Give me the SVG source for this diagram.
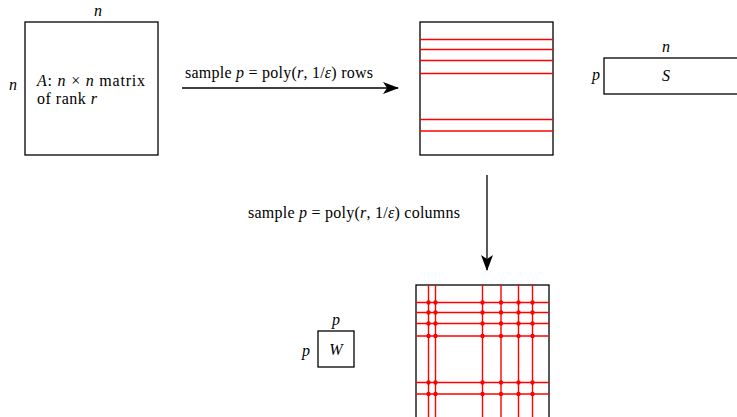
<svg xmlns="http://www.w3.org/2000/svg" width="737" height="417" viewBox="0 0 737 417">
<defs>
<marker id="ah" markerWidth="16" markerHeight="12" refX="15" refY="6" orient="auto" markerUnits="userSpaceOnUse">
<path d="M0,0 L16,6 L0,12 L4,6 Z" fill="#000"/>
</marker>
<clipPath id="clipC"><rect x="416" y="285" width="133" height="140"/></clipPath>
</defs>
<style>
.box{fill:#fff;stroke:#000;stroke-width:1.3}
.t{font-family:"Liberation Serif","DejaVu Serif",serif;font-size:16px;fill:#000}
.i{font-style:italic}
.r{stroke:#ff0000;stroke-width:1.4;fill:none}
.d{fill:#ff0000}
.c{stroke:#000;stroke-width:1.3;fill:none}
</style>
<g id="nodeA">
<rect class="box" x="25" y="22" width="133" height="133"/>
<text class="t i" x="98" y="16" text-anchor="middle">n</text>
<text class="t i" x="13" y="90" text-anchor="middle">n</text>
<text class="t" x="37" y="86" textLength="108" lengthAdjust="spacing"><tspan class="i">A</tspan>: <tspan class="i">n</tspan> × <tspan class="i">n</tspan> matrix</text>
<text class="t" x="37" y="104" textLength="60" lengthAdjust="spacing">of rank <tspan class="i">r</tspan></text>
</g>
<g id="nodeRows">
<rect class="box" x="420" y="22" width="133" height="133"/>
<g class="r">
<line x1="420" y1="39.5" x2="553" y2="39.5"/>
<line x1="420" y1="49.5" x2="553" y2="49.5"/>
<line x1="420" y1="60.5" x2="553" y2="60.5"/>
<line x1="420" y1="73.5" x2="553" y2="73.5"/>
<line x1="420" y1="119.5" x2="553" y2="119.5"/>
<line x1="420" y1="131" x2="553" y2="131"/>
</g>
</g>
<g id="nodeS">
<rect class="box" x="604" y="58" width="140" height="36"/>
<text class="t i" x="666" y="52" text-anchor="middle">n</text>
<text class="t i" x="596" y="80" text-anchor="middle">p</text>
<text class="t i" x="666" y="81" text-anchor="middle">S</text>
</g>
<g id="nodeC">
<rect class="box" x="416" y="285" width="133" height="140"/>
<g clip-path="url(#clipC)">
<g class="r">
<line x1="428.5" y1="285" x2="428.5" y2="425"/>
<line x1="435.5" y1="285" x2="435.5" y2="425"/>
<line x1="482.5" y1="285" x2="482.5" y2="425"/>
<line x1="501" y1="285" x2="501" y2="425"/>
<line x1="518.5" y1="285" x2="518.5" y2="425"/>
<line x1="532.5" y1="285" x2="532.5" y2="425"/>
<line x1="416" y1="302.5" x2="549" y2="302.5"/>
<line x1="416" y1="312.5" x2="549" y2="312.5"/>
<line x1="416" y1="323.5" x2="549" y2="323.5"/>
<line x1="416" y1="336" x2="549" y2="336"/>
<line x1="416" y1="382.5" x2="549" y2="382.5"/>
<line x1="416" y1="394" x2="549" y2="394"/>
</g>
<g class="d">
<circle cx="428.5" cy="302.5" r="2.2"/><circle cx="435.5" cy="302.5" r="2.2"/><circle cx="482.5" cy="302.5" r="2.2"/><circle cx="501" cy="302.5" r="2.2"/><circle cx="518.5" cy="302.5" r="2.2"/><circle cx="532.5" cy="302.5" r="2.2"/>
<circle cx="428.5" cy="312.5" r="2.2"/><circle cx="435.5" cy="312.5" r="2.2"/><circle cx="482.5" cy="312.5" r="2.2"/><circle cx="501" cy="312.5" r="2.2"/><circle cx="518.5" cy="312.5" r="2.2"/><circle cx="532.5" cy="312.5" r="2.2"/>
<circle cx="428.5" cy="323.5" r="2.2"/><circle cx="435.5" cy="323.5" r="2.2"/><circle cx="482.5" cy="323.5" r="2.2"/><circle cx="501" cy="323.5" r="2.2"/><circle cx="518.5" cy="323.5" r="2.2"/><circle cx="532.5" cy="323.5" r="2.2"/>
<circle cx="428.5" cy="336" r="2.2"/><circle cx="435.5" cy="336" r="2.2"/><circle cx="482.5" cy="336" r="2.2"/><circle cx="501" cy="336" r="2.2"/><circle cx="518.5" cy="336" r="2.2"/><circle cx="532.5" cy="336" r="2.2"/>
<circle cx="428.5" cy="382.5" r="2.2"/><circle cx="435.5" cy="382.5" r="2.2"/><circle cx="482.5" cy="382.5" r="2.2"/><circle cx="501" cy="382.5" r="2.2"/><circle cx="518.5" cy="382.5" r="2.2"/><circle cx="532.5" cy="382.5" r="2.2"/>
<circle cx="428.5" cy="394" r="2.2"/><circle cx="435.5" cy="394" r="2.2"/><circle cx="482.5" cy="394" r="2.2"/><circle cx="501" cy="394" r="2.2"/><circle cx="518.5" cy="394" r="2.2"/><circle cx="532.5" cy="394" r="2.2"/>
</g>
</g>
</g>
<g id="nodeW">
<rect class="box" x="318" y="331" width="36" height="36"/>
<text class="t i" x="336" y="325" text-anchor="middle">p</text>
<text class="t i" x="306" y="356" text-anchor="middle">p</text>
<text class="t i" x="336" y="355" text-anchor="middle">W</text>
</g>
<g id="connectors">
<line class="c" x1="182" y1="88" x2="398" y2="88" marker-end="url(#ah)"/>
<text class="t" x="185" y="78" textLength="188" lengthAdjust="spacing">sample <tspan class="i">p</tspan> = poly(<tspan class="i">r</tspan>, 1/<tspan class="i">ε</tspan>) rows</text>
<line class="c" x1="487" y1="175" x2="487" y2="270" marker-end="url(#ah)"/>
<text class="t" x="248" y="218" textLength="212" lengthAdjust="spacing">sample <tspan class="i">p</tspan> = poly(<tspan class="i">r</tspan>, 1/<tspan class="i">ε</tspan>) columns</text>
</g>
</svg>
